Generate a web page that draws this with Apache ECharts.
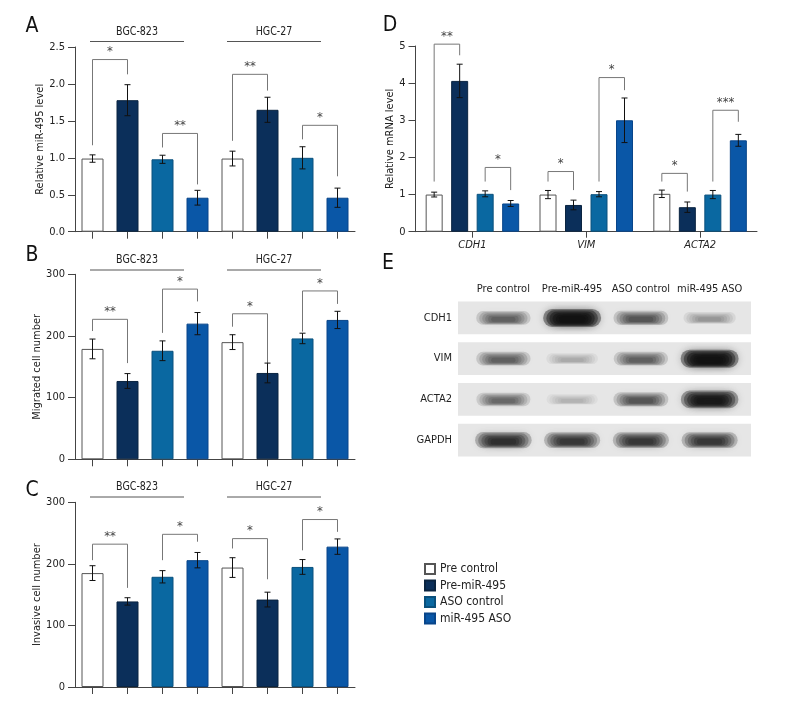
<!DOCTYPE html>
<html><head><meta charset="utf-8">
<script src="https://cdn.jsdelivr.net/npm/echarts@6/dist/echarts.min.js"></script>
<style>html,body{margin:0;padding:0;background:#fff}#c{width:792px;height:720px}</style>
</head><body><div id="c"></div>
<script>
// ---------- data ----------
const groups = ['Pre control', 'Pre-miR-495', 'ASO control', 'miR-495 ASO'];
const cellLines = ['BGC-823', 'HGC-27'];
const barCats = ['BGC-823 Pre control', 'BGC-823 Pre-miR-495', 'BGC-823 ASO control', 'BGC-823 miR-495 ASO',
                 'HGC-27 Pre control', 'HGC-27 Pre-miR-495', 'HGC-27 ASO control', 'HGC-27 miR-495 ASO'];
// Panel A: relative miR-495 level
const aMean = [0.99, 1.78, 0.98, 0.46, 0.99, 1.65, 1.00, 0.46];
const aErr  = [0.05, 0.21, 0.055, 0.10, 0.10, 0.17, 0.15, 0.13];
const aBrackets = [[0, 1, 2.33, 1.17, 2.13], [2, 3, 1.33, 1.14, 0.64], [4, 5, 2.13, 1.23, 1.91], [6, 7, 1.44, 1.25, 0.75]];
const aStars = ['*', '**', '**', '*'];
// Panel B: migrated cell number
const bMean = [179, 127, 176, 220, 190, 140, 196, 226];
const bErr  = [16, 12, 16, 18, 12, 16, 8.5, 14];
const bBrackets = [[0, 1, 227, 208, 156], [2, 3, 276, 205, 256], [4, 5, 236, 215, 156], [6, 7, 273, 207, 252]];
const bStars = ['**', '*', '*', '*'];
// Panel C: invasive cell number
const cMean = [185, 139, 179, 206, 194, 142, 195, 228];
const cErr  = [12, 6, 10, 12.5, 16, 12, 12, 12.5];
const cBrackets = [[0, 1, 232, 206, 161], [2, 3, 248, 206, 236], [4, 5, 241, 225, 175], [6, 7, 272, 222, 252]];
const cStars = ['**', '*', '*', '*'];
// Panel D: relative mRNA level (per group, per gene)
const genes = ['CDH1', 'VIM', 'ACTA2'];
const dMean = [
  [1.00, 1.00, 1.02],   // Pre control
  [4.06, 0.72, 0.66],   // Pre-miR-495
  [1.02, 1.01, 1.00],   // ASO control
  [0.76, 3.00, 2.46]    // miR-495 ASO
];
const dErr = [
  [0.065, 0.11, 0.10],
  [0.45, 0.13, 0.14],
  [0.08, 0.07, 0.11],
  [0.08, 0.60, 0.16]
];
// [gene, group1, group2, top, leftBottom, rightBottom]
const dBrackets = [[0, 0, 1, 5.05, 1.35, 4.75], [0, 2, 3, 1.73, 1.35, 1.12], [1, 0, 1, 1.62, 1.35, 1.12],
                   [1, 2, 3, 4.15, 1.35, 3.81], [2, 0, 1, 1.57, 1.35, 1.08], [2, 2, 3, 3.27, 1.35, 2.96]];
const dStars = ['**', '*', '*', '*', '*', '***'];
// Panel E: western blot band darkness (0 = none, 1 = darkest)
const proteins = ['CDH1', 'VIM', 'ACTA2', 'GAPDH'];
const blotCDH1  = [0.55, 1.00, 0.60, 0.28];
const blotVIM   = [0.55, 0.18, 0.55, 1.00];
const blotACTA2 = [0.50, 0.13, 0.60, 0.95];
const blotGAPDH = [0.82, 0.76, 0.76, 0.76];

// ---------- styles ----------
const F = "'DejaVu Sans Condensed','Liberation Sans Narrow','Liberation Sans',sans-serif";
const FS = 11;
const colors = ['#ffffff', '#0b2f5a', '#0a68a1', '#0a57a7'];
const borderColors = ['#555555', '#0a2440', '#0a507c', '#08458a'];
const TXT = '#222';
const BR = '#777';

function barItems(means) {
  return means.map((v, i) => ({ value: v, itemStyle: { color: colors[i % 4], borderColor: borderColors[i % 4], borderWidth: 1 } }));
}
function xCat(gi) {
  return { type: 'category', gridIndex: gi, data: barCats, boundaryGap: true,
    axisLine: { show: true, lineStyle: { color: '#444', width: 1 } },
    axisTick: { show: true, alignWithLabel: true, interval: 0, length: 7, lineStyle: { color: '#444' } },
    axisLabel: { show: false, interval: 0 } };
}
function yVal(gi, max, interval, name, nameGap, dec) {
  return { type: 'value', gridIndex: gi, min: 0, max: max, interval: interval,
    name: name, nameLocation: 'middle', nameGap: nameGap,
    nameTextStyle: { fontFamily: F, fontSize: FS, color: TXT },
    axisLine: { show: true, lineStyle: { color: '#444', width: 1 } },
    axisTick: { show: true, length: 7, lineStyle: { color: '#444' } },
    axisLabel: { fontFamily: F, fontSize: FS, color: TXT, margin: 10, formatter: v => v.toFixed(dec) },
    splitLine: { show: false } };
}
function errLines(cx, yTop, yBot) {
  const hw = 3;
  const st = { stroke: '#111', lineWidth: 1 };
  return [
    { type: 'line', shape: { x1: cx, y1: yTop, x2: cx, y2: yBot }, style: st },
    { type: 'line', shape: { x1: cx - hw, y1: yTop, x2: cx + hw, y2: yTop }, style: st },
    { type: 'line', shape: { x1: cx - hw, y1: yBot, x2: cx + hw, y2: yBot }, style: st }
  ];
}
function errSeries(gi, means, errs) {
  return { type: 'custom', xAxisIndex: gi, yAxisIndex: gi, z: 5, silent: true,
    data: means.map((m, i) => [i, m, errs[i]]), encode: { x: 0, y: 1 },
    renderItem: (params, api) => {
      const x = api.value(0), m = api.value(1), e = api.value(2);
      const t = api.coord([x, m + e]), b = api.coord([x, m - e]);
      return { type: 'group', children: errLines(t[0], t[1], b[1]) };
    } };
}
function bracketShape(xl, xr, yt, yl, yr, star) {
  return { type: 'group', children: [
    { type: 'polyline', shape: { points: [[xl, yl], [xl, yt], [xr, yt], [xr, yr]] }, style: { stroke: BR, lineWidth: 1, fill: null } },
    { type: 'text', x: (xl + xr) / 2, y: yt - 1, style: { text: star, fontFamily: F, fontSize: 13, fill: '#444', align: 'center', verticalAlign: 'bottom' } }
  ] };
}
function bracketSeries(gi, brackets, stars) {
  return { type: 'custom', xAxisIndex: gi, yAxisIndex: gi, z: 4, silent: true, clip: false,
    data: brackets.map(b => [b[0], b[2]]), encode: { x: 0, y: 1 },
    renderItem: (params, api) => {
      const b = brackets[params.dataIndex];
      const pl = api.coord([b[0], b[3]]), pr = api.coord([b[1], b[4]]), pt = api.coord([b[0], b[2]]);
      return bracketShape(pl[0], pr[0], pt[1], pl[1], pr[1], stars[params.dataIndex]);
    } };
}
// D offsets: bar width 17, gap 8.5
const dBarW = 17, dPitch = 25.5;
function dOff(s) { return (s - 1.5) * dPitch; }

const grids = [
  { left: 75, top: 47, width: 280, height: 184.7 },
  { left: 75, top: 274.3, width: 280, height: 185 },
  { left: 75, top: 502.3, width: 280, height: 184.7 },
  { left: 415.5, top: 46, width: 341.5, height: 185.7 },
  { left: 469, top: 297.5, width: 275, height: 163 }
];

const xAxes = [xCat(0), xCat(1), xCat(2),
  { type: 'category', gridIndex: 3, data: genes, boundaryGap: true,
    axisLine: { show: true, lineStyle: { color: '#444', width: 1 } },
    axisTick: { show: true, alignWithLabel: true, interval: 0, length: 6, lineStyle: { color: '#444' } },
    axisLabel: { fontFamily: F, fontSize: FS, fontStyle: 'italic', color: TXT, margin: 8, interval: 0 } },
  { type: 'category', gridIndex: 4, data: groups, position: 'top', boundaryGap: true,
    axisLine: { show: false }, axisTick: { show: false },
    axisLabel: { fontFamily: F, fontSize: FS, color: TXT, margin: 3, interval: 0 } }
];
const yAxes = [
  yVal(0, 2.5, 0.5, 'Relative miR-495 level', 25, 1),
  yVal(1, 300, 100, 'Migrated cell number', 25, 0),
  yVal(2, 300, 100, 'Invasive cell number', 25, 0),
  yVal(3, 5, 1, 'Relative mRNA level', 20, 0),
  { type: 'category', gridIndex: 4, data: proteins, inverse: true,
    axisLine: { show: false }, axisTick: { show: false },
    axisLabel: { fontFamily: F, fontSize: FS, color: TXT, margin: 17, interval: 0 } }
];

const series = [];
[[aMean, aErr, aBrackets, aStars], [bMean, bErr, bBrackets, bStars], [cMean, cErr, cBrackets, cStars]].forEach((p, gi) => {
  series.push({ type: 'bar', name: 'panel' + gi, xAxisIndex: gi, yAxisIndex: gi, barWidth: 22, data: barItems(p[0]), silent: true });
  series.push(errSeries(gi, p[0], p[1]));
  series.push(bracketSeries(gi, p[2], p[3]));
});
groups.forEach((g, s) => {
  series.push({ type: 'bar', name: g, xAxisIndex: 3, yAxisIndex: 3, barWidth: dBarW, barGap: '50%',
    itemStyle: { color: colors[s], borderColor: borderColors[s], borderWidth: 1 }, data: dMean[s], silent: true });
});
series.push({ type: 'custom', xAxisIndex: 3, yAxisIndex: 3, z: 5, silent: true,
  data: dMean.flatMap((row, s) => row.map((m, g) => [g, m, dErr[s][g], s])), encode: { x: 0, y: 1 },
  renderItem: (params, api) => {
    const g = api.value(0), m = api.value(1), e = api.value(2), s = api.value(3);
    const t = api.coord([g, m + e]), b = api.coord([g, m - e]);
    return { type: 'group', children: errLines(t[0] + dOff(s), t[1], b[1]) };
  } });
series.push({ type: 'custom', xAxisIndex: 3, yAxisIndex: 3, z: 4, silent: true, clip: false,
  data: dBrackets.map(b => [b[0], b[3]]), encode: { x: 0, y: 1 },
  renderItem: (params, api) => {
    const b = dBrackets[params.dataIndex];
    const c = api.coord([b[0], b[3]]);
    const yl = api.coord([b[0], b[4]])[1], yr = api.coord([b[0], b[5]])[1];
    return bracketShape(c[0] + dOff(b[1]), c[0] + dOff(b[2]), c[1], yl, yr, dStars[params.dataIndex]);
  } });
// Blot backgrounds
series.push({ type: 'custom', xAxisIndex: 4, yAxisIndex: 4, z: 1, silent: true,
  data: proteins.map((p, i) => [0, i]), encode: { x: 0, y: 1 },
  renderItem: (params, api) => {
    const cy = api.coord([0, api.value(1)])[1];
    const cs = params.coordSys;
    return { type: 'rect', shape: { x: cs.x - 11, y: cy - 16.3, width: cs.width + 18, height: 32.6 },
      style: { fill: '#e6e6e6' } };
  } });
// Blot bands: concentric soft layers
const blotRows = [blotCDH1, blotVIM, blotACTA2, blotGAPDH];
series.push({ type: 'custom', xAxisIndex: 4, yAxisIndex: 4, z: 2, silent: true,
  data: blotRows.flatMap((row, r) => row.map((d, l) => [l, r, d])), encode: { x: 0, y: 1 },
  renderItem: (params, api) => {
    const c = api.coord([api.value(0), api.value(1)]);
    const d = api.value(2);
    const W = 50 + 8 * d, H = 9 + 9 * d;
    const D = 0.12 + 0.83 * d;
    const n = 6;
    const a = 1 - Math.pow(1 - D, 1 / n);
    const kids = [];
    for (let k = 0; k < n; k++) {
      const w = W * (1 - 0.11 * k), h = H * (1 - 0.13 * k);
      const col = 'rgba(15,15,15,' + a.toFixed(3) + ')';
      kids.push({ type: 'rect', shape: { x: c[0] - w / 2, y: c[1] - h / 2 + 0.3 * k, width: w, height: h, r: h / 2 },
        style: { fill: col, shadowBlur: 8, shadowColor: col } });
    }
    return { type: 'group', children: kids };
  } });

// ---------- annotations ----------
function letter(t, x, y) {
  return { type: 'text', x: x, y: y, style: { text: t, fontFamily: F, fontSize: 21, fill: '#111', align: 'center', verticalAlign: 'middle' } };
}
function header(yText, yLine) {
  const out = [];
  const spans = [[90, 184], [227, 321]];
  cellLines.forEach((cl, i) => {
    out.push({ type: 'text', x: (spans[i][0] + spans[i][1]) / 2, y: yText, scaleX: 0.88,
      style: { text: cl, fontFamily: F, fontSize: 12, fill: TXT, align: 'center', verticalAlign: 'middle' } });
    out.push({ type: 'line', shape: { x1: spans[i][0], y1: yLine, x2: spans[i][1], y2: yLine }, style: { stroke: '#555', lineWidth: 1 } });
  });
  return out;
}
const graphics = [letter('A', 32, 27), letter('B', 32, 256), letter('C', 32, 491), letter('D', 390, 26), letter('E', 388, 264)]
  .concat(header(32, 41.5), header(260, 270), header(487, 497));

const chart = echarts.init(document.getElementById('c'), null, { renderer: 'canvas' });
chart.setOption({
  backgroundColor: '#ffffff',
  animation: false,
  grid: grids,
  xAxis: xAxes,
  yAxis: yAxes,
  legend: { data: groups, orient: 'vertical', left: 419, top: 558, itemWidth: 10, itemHeight: 10, itemGap: 4.5,
    icon: 'rect', selectedMode: false, textStyle: { fontFamily: F, fontSize: 12, color: TXT } },
  graphic: graphics,
  series: series
});
</script>
</body></html>
